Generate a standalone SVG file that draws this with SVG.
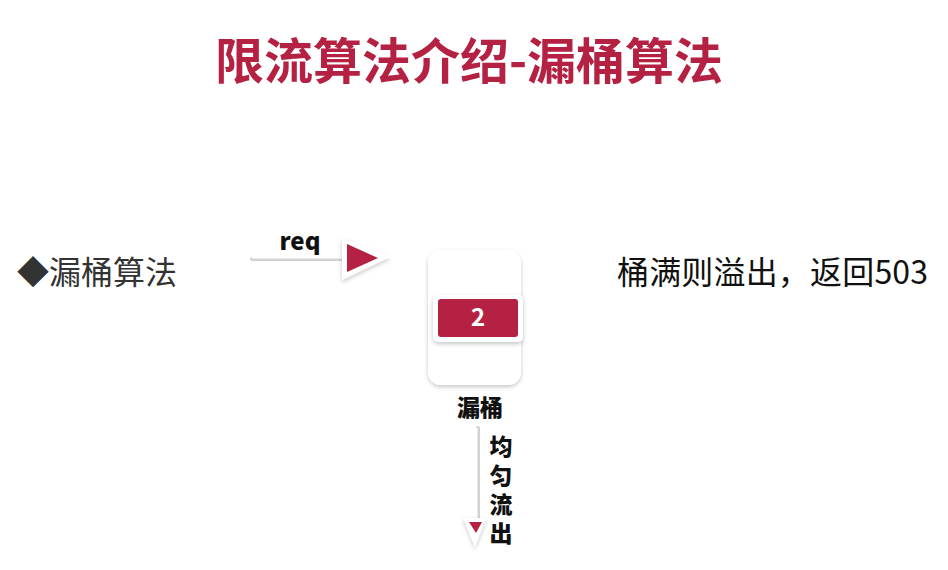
<svg xmlns="http://www.w3.org/2000/svg" width="948" height="570" viewBox="0 0 948 570">
  <defs>
    <style>
      .cjk { font-family: "Noto Sans CJK SC", "Noto Sans", sans-serif; }
      .title { font-size: 49px; font-weight: 700; fill: #B42142; }
      .bold { font-weight: 900; fill: #111; }
      .plain { font-weight: 400; }
      .red { fill: #B42142; }
      .white { fill: #FFFFFF; }
      .shaft-shadow { stroke: #D2D2D2; stroke-width: 4; stroke-linecap: round; }
      .shaft { stroke: #FFFFFF; stroke-width: 2; }
    </style>
    <filter id="shadow" x="-20%" y="-20%" width="140%" height="140%">
      <feDropShadow dx="0" dy="2" stdDeviation="2" flood-color="#000" flood-opacity="0.22"/>
    </filter>
  </defs>

  <rect x="0" y="0" width="948" height="570" fill="#FFFFFF"/>

  <g id="title">
    <text class="cjk title" x="469" y="79" text-anchor="middle">限流算法介绍-漏桶算法</text>
  </g>

  <g id="left-label">
    <text class="cjk plain" x="17" y="284" font-size="32" fill="#333333">◆漏桶算法</text>
  </g>

  <g id="right-label">
    <text class="cjk plain" x="617" y="284" font-size="32" fill="#111111" textLength="311" lengthAdjust="spacing">桶满则溢出，返回503</text>
  </g>

  <g id="bucket">
    <rect x="428" y="250" width="93" height="135" rx="13" ry="13" fill="#FFFFFF" filter="url(#shadow)"/>
    <rect x="433" y="295" width="90" height="47" rx="5" ry="5" fill="#FFFFFF" filter="url(#shadow)"/>
    <rect x="438" y="299" width="80" height="38" rx="3" ry="3" class="red"/>
    <text class="cjk white" x="478" y="326" font-size="24" font-weight="700" text-anchor="middle">2</text>
    <text class="cjk bold" x="480" y="416" font-size="23" text-anchor="middle">漏桶</text>
  </g>

  <g id="connectors">
    <g id="req-arrow">
      <line x1="252" y1="259" x2="346" y2="259" class="shaft-shadow"/>
      <line x1="252" y1="257.5" x2="346" y2="257.5" class="shaft"/>
      <polygon points="342,238 390,257 342,280" fill="#FFFFFF" filter="url(#shadow)"/>
      <polygon points="347,244 378,258 347,272" class="red"/>
      <text class="cjk bold" x="300" y="250" font-size="24" text-anchor="middle">req</text>
    </g>
    <g id="outflow-arrow">
      <line x1="478" y1="428" x2="478" y2="520" class="shaft-shadow"/>
      <line x1="476.5" y1="428" x2="476.5" y2="520" class="shaft"/>
      <polygon points="463,518 486,518 475,547" fill="#FFFFFF" filter="url(#shadow)"/>
      <polygon points="469,522 482,522 476,533" class="red"/>
      <text class="cjk bold" x="501" y="435" font-size="23" style="writing-mode: vertical-rl; text-orientation: upright; letter-spacing: 6px;">均匀流出</text>
    </g>
  </g>
</svg>
